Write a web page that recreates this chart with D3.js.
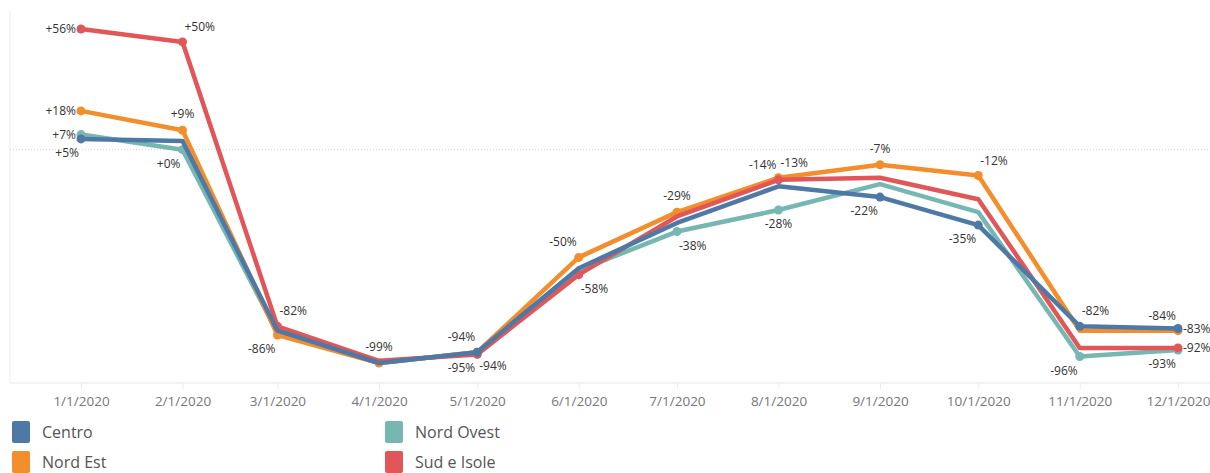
<!DOCTYPE html>
<html>
<head>
<meta charset="utf-8">
<script src="https://cdn.jsdelivr.net/npm/d3@7"></script>
<style>
  body { margin: 0; background: #fff; font-family: "Open Sans", sans-serif; }
  .tick-label { fill: #777; font-size: 13.5px; }
  .point-label { fill: #333; font-size: 12px; }
  .legend-label { fill: #555; font-size: 16px; }
</style>
</head>
<body>
<div id="chart"></div>
<script>
var width = 1210;
var height = 473;

var months = ["1/1/2020","2/1/2020","3/1/2020","4/1/2020","5/1/2020","6/1/2020",
              "7/1/2020","8/1/2020","9/1/2020","10/1/2020","11/1/2020","12/1/2020"];

var seriesNames = ["Centro", "Nord Est", "Nord Ovest", "Sud e Isole"];
var colors = ["#4e79a7", "#f28e2b", "#76b7b2", "#e15759"];

// percent change per month
var centro    = [5, 4, -84, -99, -94, -55, -34, -17, -22, -35, -82, -83];
var nordEst   = [18, 9, -86, -99, -94, -50, -29, -13, -7, -12, -84, -84];
var nordOvest = [7, 0, -85, -99, -94, -56, -38, -28, -16, -29, -96, -93];
var sudIsole  = [56, 50, -82, -98, -95, -58, -31, -14, -13, -23, -92, -92];

// labelled points and where the label sits (a=above, b=below, l/r, al/ar/bl/br)
var centroLabels    = ["bl", null, null, null, "br", null, null, null, "bl", "bl", "ar", "r"];
var nordEstLabels   = ["l", "a", "bl", "a", "al", "al", "a", "ar", "a", "ar", null, "al"];
var nordOvestLabels = ["l", "bl", null, null, null, null, "br", "b", null, null, "bl", "bl"];
var sudIsoleLabels  = ["l", "ar", "ar", null, "bl", "br", null, "al", null, null, null, "r"];

var values = [centro, nordEst, nordOvest, sudIsole];
var labels = [centroLabels, nordEstLabels, nordOvestLabels, sudIsoleLabels];

var parse = d3.timeParse("%m/%d/%Y");
var dates = months.map(parse);

var svg = d3.select("#chart").append("svg")
  .attr("width", width)
  .attr("height", height);

var plot = {left: 10, top: 10, right: 1210, bottom: 383};

var x = d3.scaleTime()
  .domain([dates[0], dates[dates.length - 1]])
  .range([81, 1178]);
var y = d3.scaleLinear()
  .domain([-99, 56])
  .range([363, 29]);

// frame
svg.append("line")
  .attr("x1", plot.left).attr("x2", plot.left)
  .attr("y1", plot.top).attr("y2", plot.bottom)
  .attr("stroke", "#ececec");
svg.append("line")
  .attr("x1", plot.left).attr("x2", plot.right)
  .attr("y1", plot.bottom).attr("y2", plot.bottom)
  .attr("stroke", "#e6e6e6");

// zero line
svg.append("line")
  .attr("x1", plot.left).attr("x2", plot.right)
  .attr("y1", y(0)).attr("y2", y(0))
  .attr("stroke", "#d4d4d4")
  .attr("stroke-dasharray", "1,2");

// x axis
var xAxis = d3.axisBottom(x)
  .tickValues(dates)
  .tickSize(6)
  .tickFormat(function(d, i) { return months[i]; });
var gx = svg.append("g")
  .attr("transform", "translate(0," + plot.bottom + ")")
  .call(xAxis);
gx.select(".domain").remove();
gx.selectAll(".tick line").attr("stroke", "#ececec");
gx.selectAll(".tick text")
  .attr("class", "tick-label")
  .attr("dy", 0)
  .attr("y", 23)
  .style("font-family", "Open Sans, sans-serif");

// one record per point
function points(s) {
  return values[s].map(function(v, i) {
    return {date: dates[i], value: v, pos: labels[s][i]};
  });
}

// lines, drawn bottom to top
var drawOrder = [2, 1, 3, 0];
var line = d3.line()
  .x(function(d) { return x(d.date); })
  .y(function(d) { return y(d.value); });

drawOrder.forEach(function(s) {
  var pts = points(s);
  var g = svg.append("g");
  g.append("path")
    .datum(pts)
    .attr("d", line)
    .attr("fill", "none")
    .attr("stroke", colors[s])
    .attr("stroke-width", 4.5)
    .attr("stroke-linejoin", "round");
  g.selectAll("circle")
    .data(pts.filter(function(d) { return d.pos; }))
    .enter()
    .append("circle")
    .attr("cx", function(d) { return x(d.date); })
    .attr("cy", function(d) { return y(d.value); })
    .attr("r", 4.5)
    .attr("fill", colors[s]);
});

// labels
var offsets = {
  a:  [0, -12, "middle"],
  b:  [0, 18, "middle"],
  l:  [-5, 4, "end"],
  r:  [5, 4, "start"],
  al: [-2, -11, "end"],
  ar: [2, -11, "start"],
  bl: [-2, 18, "end"],
  br: [2, 18, "start"]
};
var fmt = function(v) { return (v >= 0 ? "+" : "") + v + "%"; };

values.forEach(function(vals, s) {
  svg.append("g")
    .selectAll("text")
    .data(points(s).filter(function(d) { return d.pos; }))
    .enter()
    .append("text")
    .attr("class", "point-label")
    .attr("x", function(d) { return x(d.date) + offsets[d.pos][0]; })
    .attr("y", function(d) { return y(d.value) + offsets[d.pos][1]; })
    .attr("text-anchor", function(d) { return offsets[d.pos][2]; })
    .text(function(d) { return fmt(d.value); });
});

// legend
var legend = svg.append("g").selectAll("g")
  .data(seriesNames)
  .enter()
  .append("g")
  .attr("transform", function(d, i) {
    return "translate(" + (i < 2 ? 12 : 385) + "," + (i % 2 === 0 ? 421 : 451) + ")";
  });
legend.append("rect")
  .attr("width", 18)
  .attr("height", 22)
  .attr("rx", 2)
  .attr("fill", function(d, i) { return colors[i]; });
legend.append("text")
  .attr("class", "legend-label")
  .attr("x", 30)
  .attr("y", 17)
  .text(function(d) { return d; });
</script>
</body>
</html>
